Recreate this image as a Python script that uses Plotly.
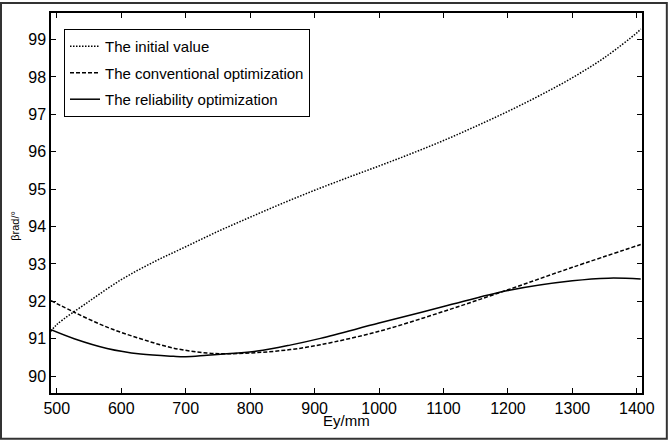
import plotly.graph_objects as go

# values
ey_init = [491, 500, 550, 600, 650, 700, 750, 800, 850, 900, 950, 1000,
           1050, 1100, 1150, 1200, 1250, 1300, 1350, 1400, 1406]
beta_init = [91.2, 91.38, 92.0, 92.58, 93.05, 93.46, 93.87, 94.25, 94.62, 94.97,
             95.3, 95.62, 95.95, 96.3, 96.68, 97.08, 97.51, 97.98, 98.52, 99.18, 99.28]

ey_conv = [491, 527, 578, 630, 681, 733, 764, 811, 862, 909, 1000,
           1100, 1200, 1300, 1406]
beta_conv = [92.02, 91.71, 91.31, 91.0, 90.75, 90.62, 90.6, 90.63, 90.71, 90.84,
             91.2, 91.73, 92.31, 92.91, 93.52]

ey_rel = [491, 527, 578, 630, 681, 700, 733, 764, 811, 862, 909, 1000,
          1100, 1200, 1300, 1356, 1406]
beta_rel = [91.24, 91.0, 90.74, 90.59, 90.53, 90.52, 90.56, 90.6, 90.67, 90.83,
            91.01, 91.42, 91.86, 92.29, 92.55, 92.62, 92.6]

x_ticks = [500, 600, 700, 800, 900, 1000, 1100, 1200, 1300, 1400]
y_ticks = [90, 91, 92, 93, 94, 95, 96, 97, 98, 99]

fig = go.Figure()
fig.add_trace(go.Scatter(x=ey_init, y=beta_init, mode="lines", name="The initial value",
                         legendgroup="a",
                         line=dict(color="black", width=1.5, dash="1.5px,1.5px", shape="spline")))
fig.add_trace(go.Scatter(x=ey_conv, y=beta_conv, mode="lines", name="The conventional optimization",
                         legendgroup="b",
                         line=dict(color="black", width=1.5, dash="4px,2px", shape="spline")))
fig.add_trace(go.Scatter(x=ey_rel, y=beta_rel, mode="lines", name="The reliability optimization",
                         legendgroup="c",
                         line=dict(color="black", width=1.5, shape="spline")))

axis_style = dict(showgrid=False, zeroline=False, showline=True, linecolor="black",
                  linewidth=1.5, mirror="ticks", ticks="inside", ticklen=5,
                  tickcolor="black", tickwidth=1,
                  tickfont=dict(size=16, color="black"))

fig.update_xaxes(range=[491, 1408], tickvals=x_ticks, **axis_style)
fig.update_yaxes(range=[89.55, 99.71], tickvals=y_ticks, **axis_style)

# axis titles as annotations so they sit where the reference has them
fig.add_annotation(text="Ey/mm", xref="paper", yref="paper", x=0.5, y=-0.0733,
                   xanchor="center", yanchor="middle", showarrow=False,
                   font=dict(size=15, color="black"))
fig.add_annotation(text="βrad/°", xref="paper", yref="paper", x=-0.061, y=0.44,
                   xanchor="center", yanchor="middle", showarrow=False, textangle=-90,
                   font=dict(size=11, color="black"))

# outer frame around the whole picture
fig.add_shape(type="rect", xref="paper", yref="paper",
              x0=-0.0846, x1=1.042, y0=-0.1204, y1=1.026,
              line=dict(color="#333333", width=2))

fig.update_layout(
    width=669, height=442,
    margin=dict(l=51, r=27, t=11, b=49),
    paper_bgcolor="white", plot_bgcolor="white",
    font=dict(family="Liberation Sans, Arial", color="black"),
    showlegend=True,
    legend=dict(x=0.022, y=0.958, xanchor="left", yanchor="top",
                bgcolor="white", bordercolor="black", borderwidth=1,
                font=dict(size=15, color="black"), tracegroupgap=4,
                itemwidth=30),
)

# the page body has a default 8px margin; drop it so the figure sits at the corner
fig.write_html("out.html", config={"displayModeBar": False},
               post_script="document.body.style.margin='0';")
